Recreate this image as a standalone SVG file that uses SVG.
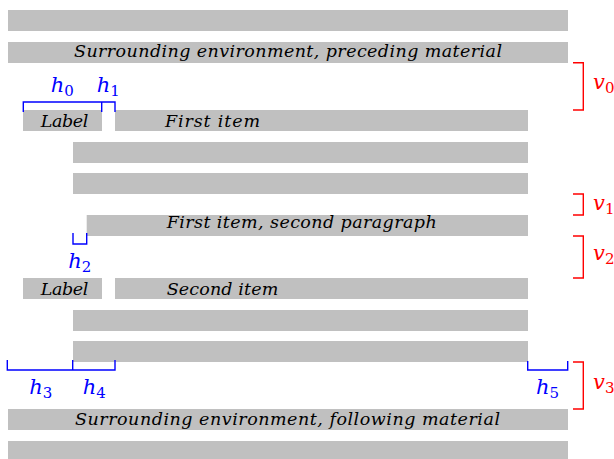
<svg xmlns="http://www.w3.org/2000/svg" width="614" height="459" viewBox="0 0 614 459">
<style>
.bar{fill:#c0c0c0}
.t{font-family:'DejaVu Serif','Liberation Serif',serif;font-style:italic;font-size:17.5px;fill:#000}
.m{font-family:'DejaVu Serif','Liberation Serif',serif;font-style:italic;font-size:21px}
.sub{font-style:normal;font-size:15px}
.hb{fill:#0000ff}
.vr{fill:#ff0000}
.bb{fill:none;stroke:#0000ff;stroke-width:1.4}
.br{fill:none;stroke:#ff0000;stroke-width:1.4}
</style>
<rect width="614" height="459" fill="#fff"/>
<g id="env-top-1"><rect class="bar" x="8" y="10" width="560" height="21"/></g>
<g id="env-top-2"><rect class="bar" x="8" y="42" width="560" height="21"/>
<text class="t" x="74" y="57" textLength="428" lengthAdjust="spacing">Surrounding environment, preceding material</text></g>
<g id="label-1"><rect class="bar" x="23" y="110" width="79" height="21"/>
<text class="t" x="40.7" y="126.5" textLength="47.6" lengthAdjust="spacing">Label</text></g>
<g id="item-1"><rect class="bar" x="115" y="110" width="413" height="21"/>
<text class="t" x="165" y="126.5" textLength="95" lengthAdjust="spacing">First item</text></g>
<g id="item-1-line-2"><rect class="bar" x="73" y="142" width="455" height="21"/></g>
<g id="item-1-line-3"><rect class="bar" x="73" y="173" width="455" height="21"/></g>
<g id="item-1-par-2"><rect class="bar" x="86.7" y="215" width="441.3" height="21"/>
<text class="t" x="166.7" y="227.5" textLength="270" lengthAdjust="spacing">First item, second paragraph</text></g>
<g id="label-2"><rect class="bar" x="23" y="278" width="79" height="21"/>
<text class="t" x="40.7" y="295" textLength="47.6" lengthAdjust="spacing">Label</text></g>
<g id="item-2"><rect class="bar" x="115" y="278" width="413" height="21"/>
<text class="t" x="166.7" y="295" textLength="111.6" lengthAdjust="spacing">Second item</text></g>
<g id="item-2-line-2"><rect class="bar" x="73" y="310" width="455" height="21"/></g>
<g id="item-2-line-3"><rect class="bar" x="73" y="341" width="455" height="21"/></g>
<g id="env-bottom-1"><rect class="bar" x="8" y="409" width="560" height="21"/>
<text class="t" x="75" y="424.5" textLength="425" lengthAdjust="spacing">Surrounding environment, following material</text></g>
<g id="env-bottom-2"><rect class="bar" x="8" y="441" width="560" height="21"/></g>
<g id="connectors">
<path class="bb" d="M23.3,112V102H115V112M101.7,102V112"/>
<path class="bb" d="M73,233V244H86.7V233"/>
<path class="bb" d="M7.3,360V370H115V360M72.7,360V370"/>
<path class="bb" d="M527.7,361V370H567.7V361"/>
<path class="br" d="M573,62.7H583.3V110H573"/>
<path class="br" d="M573,194H583.3V215H573"/>
<path class="br" d="M573,236H583.3V278H573"/>
<path class="br" d="M573,362H583.3V409H573"/>
</g>
<g id="labels">
<text class="m hb" x="50.7" y="91.5">h<tspan class="sub" dy="4">0</tspan></text>
<text class="m hb" x="96.7" y="91.5">h<tspan class="sub" dy="4">1</tspan></text>
<text class="m hb" x="68.3" y="268">h<tspan class="sub" dy="4">2</tspan></text>
<text class="m hb" x="29.3" y="394">h<tspan class="sub" dy="4">3</tspan></text>
<text class="m hb" x="82.7" y="394">h<tspan class="sub" dy="4">4</tspan></text>
<text class="m hb" x="536" y="394">h<tspan class="sub" dy="4">5</tspan></text>
<text class="m vr" x="593" y="89">v<tspan class="sub" dy="4">0</tspan></text>
<text class="m vr" x="593" y="210">v<tspan class="sub" dy="4">1</tspan></text>
<text class="m vr" x="593" y="260">v<tspan class="sub" dy="4">2</tspan></text>
<text class="m vr" x="593" y="389">v<tspan class="sub" dy="4">3</tspan></text>
</g>
</svg>
